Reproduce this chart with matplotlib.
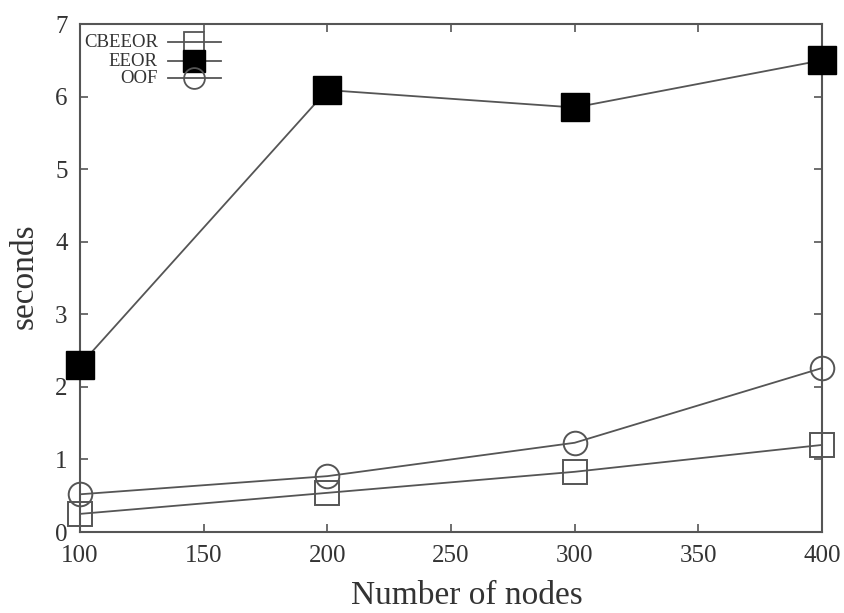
import matplotlib
matplotlib.use("Agg")
import matplotlib.pyplot as plt
from matplotlib.lines import Line2D

nodes = [100, 200, 300, 400]
cbeeor = [0.25, 0.54, 0.83, 1.20]
eeor = [2.30, 6.09, 5.85, 6.50]
oof = [0.52, 0.77, 1.23, 2.26]
series_labels = ["CBEEOR", "EEOR", "OOF"]
x_ticks = [100, 150, 200, 250, 300, 350, 400]
y_ticks = [0, 1, 2, 3, 4, 5, 6, 7]

plt.rcParams["font.family"] = ["Liberation Serif", "DejaVu Serif"]
line_col = "#555555"
text_col = "#333333"

fig = plt.figure(figsize=(8.45, 6.13), dpi=100)
ax = fig.add_axes([0.0947, 0.1321, 0.8781, 0.8287])

styles = [
    dict(marker="s", ms=17, mfc="none", mec=line_col, mew=1.4),
    dict(marker="s", ms=20, mfc="black", mec="black", mew=1.0),
    dict(marker="o", ms=17, mfc="none", mec=line_col, mew=1.4),
]
for vals, st in zip([cbeeor, eeor, oof], styles):
    ax.plot(nodes, vals, color=line_col, lw=1.3, clip_on=False, zorder=3, **st)

ax.set_xlim(100, 400)
ax.set_ylim(0, 7)
ax.set_xticks(x_ticks)
ax.set_yticks(y_ticks)
ax.tick_params(direction="in", length=6, width=1.2, color=line_col,
               top=True, right=True, labelsize=18, labelcolor=text_col)
ax.tick_params(axis="x", pad=9)
ax.tick_params(axis="y", pad=9)
for s in ax.spines.values():
    s.set_color(line_col)
    s.set_linewidth(1.5)

ax.set_xlabel("Number of nodes", fontsize=24, color=text_col)
ax.set_ylabel("seconds", fontsize=24, color=text_col)
ax.xaxis.set_label_coords(0.522, -0.095)
ax.yaxis.set_label_coords(-0.054, 0.504)

# legend drawn in axes-fraction coords: right-aligned text, then line sample with marker
leg_styles = [
    dict(marker="s", ms=15, mfc="none", mec=line_col, mew=1.3),
    dict(marker="s", ms=15.5, mfc="black", mec="black", mew=1.0),
    dict(marker="o", ms=15, mfc="none", mec=line_col, mew=1.3),
]
leg_y = [0.9646, 0.927, 0.893]
tx = 0.105
lx0, lx1 = 0.118, 0.190
for lab, st, yy in zip(series_labels, leg_styles, leg_y):
    ax.text(tx, yy, lab, transform=ax.transAxes, ha="right", va="center",
            fontsize=13.5, color=text_col)
    ax.add_line(Line2D([lx0, lx1], [yy, yy], transform=ax.transAxes,
                       color=line_col, lw=1.3, zorder=4))
    ax.add_line(Line2D([(lx0 + lx1) / 2], [yy], transform=ax.transAxes,
                       color=line_col, lw=0, zorder=4, **st))

fig.savefig("out.png", dpi=100)
